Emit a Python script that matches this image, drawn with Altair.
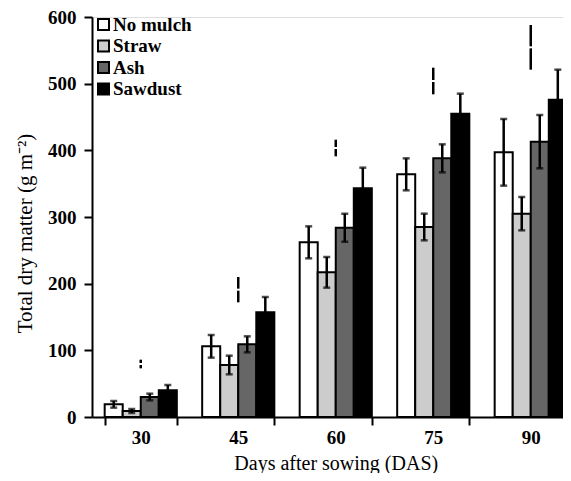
import altair as alt
import pandas as pd

days = ["30", "45", "60", "75", "90"]
treatments = ["No mulch", "Straw", "Ash", "Sawdust"]
fills = ["#ffffff", "#cccccc", "#666666", "#000000"]

no_mulch = [19, 106, 262, 364, 397]
no_mulch_err = [5, 17, 24, 24, 50]
straw = [9, 78, 217, 285, 305]
straw_err = [3, 14, 23, 20, 25]
ash = [30, 109, 284, 388, 413]
ash_err = [5, 12, 21, 21, 40]
sawdust = [40, 157, 343, 455, 476]
sawdust_err = [8, 23, 31, 30, 45]

lsd_low = [73, 172, 391, 484, 521]
lsd_high = [86, 210, 416, 524, 588]

series = {
    "No mulch": (no_mulch, no_mulch_err),
    "Straw": (straw, straw_err),
    "Ash": (ash, ash_err),
    "Sawdust": (sawdust, sawdust_err),
}

rows = []
for t in treatments:
    vals, errs = series[t]
    for d, v, e in zip(days, vals, errs):
        rows.append({"day": d, "treatment": t, "value": v, "lo": v - e, "hi": v + e})
df = pd.DataFrame(rows)

gap = 1.5
lsd_rows = []
for d, lo, hi in zip(days, lsd_low, lsd_high):
    mid = (lo + hi) / 2
    lsd_rows.append({"day": d, "a": lo, "b": mid - gap})
    lsd_rows.append({"day": d, "a": mid + gap, "b": hi})
lsd_df = pd.DataFrame(lsd_rows)

FONT = "Liberation Serif"

x_enc = alt.X(
    "day:N",
    sort=days,
    scale=alt.Scale(paddingInner=0.26, paddingOuter=0.13, range=[0, 487.5]),
    axis=alt.Axis(
        title="Days after sowing (DAS)",
        labelAngle=0,
        tickBand="extent",
        tickSize=8,
        tickWidth=2,
        tickColor="black",
        domainWidth=2,
        domainColor="black",
        labelFont=FONT,
        labelFontSize=19,
        labelFontWeight="bold",
        labelColor="black",
        labelPadding=3,
        titleFont=FONT,
        titleFontSize=20,
        titleFontWeight="normal",
        titleColor="black",
        titlePadding=6,
    ),
)
xo_enc = alt.XOffset("treatment:N", sort=treatments, scale=alt.Scale(paddingInner=0, paddingOuter=0))

y_scale = alt.Scale(domain=[0, 600], nice=False)
y_axis = alt.Axis(
    title="Total dry matter (g m⁻²)",
    values=[0, 100, 200, 300, 400, 500, 600],
    grid=False,
    tickSize=8,
    tickWidth=2,
    tickColor="black",
    domainWidth=2,
    domainColor="black",
    labelFont=FONT,
    labelFontSize=19,
    labelFontWeight="bold",
    labelColor="black",
    labelPadding=8,
    titleFont=FONT,
    titleFontSize=21,
    titleFontWeight="normal",
    titleColor="black",
    titleX=-67,
    titleY=216,
    titleBaseline="middle",
)

base = alt.Chart(df)

bars = base.mark_bar(stroke="black", strokeWidth=2).encode(
    x=x_enc,
    xOffset=xo_enc,
    y=alt.Y("value:Q", scale=y_scale, axis=y_axis),
    fill=alt.Fill(
        "treatment:N",
        sort=treatments,
        scale=alt.Scale(domain=treatments, range=fills),
        legend=alt.Legend(
            title=None,
            orient="none",
            legendX=2,
            legendY=-2,
            symbolType="square",
            symbolSize=121,
            symbolStrokeColor="black",
            symbolStrokeWidth=2,
            labelFont=FONT,
            labelFontSize=19,
            labelFontWeight="bold",
            labelColor="black",
            labelOffset=0,
            rowPadding=1.5,
        ),
    ),
)

err = base.mark_rule(color="black", strokeWidth=2.5).encode(
    x=alt.X("day:N", sort=days),
    xOffset=alt.XOffset("treatment:N", sort=treatments),
    y="lo:Q",
    y2="hi:Q",
)
cap_hi = base.mark_tick(color="black", thickness=2.5, size=7, orient="horizontal").encode(
    x=alt.X("day:N", sort=days),
    xOffset=alt.XOffset("treatment:N", sort=treatments),
    y="hi:Q",
)
cap_lo = base.mark_tick(color="black", thickness=2.5, size=7, orient="horizontal").encode(
    x=alt.X("day:N", sort=days),
    xOffset=alt.XOffset("treatment:N", sort=treatments),
    y="lo:Q",
)

lsd = alt.Chart(lsd_df).mark_rule(color="black", strokeWidth=2.5).encode(
    x=alt.X("day:N", sort=days),
    y="a:Q",
    y2="b:Q",
)

chart = (
    alt.layer(bars, err, cap_hi, cap_lo, lsd)
    .properties(
        width=471,
        height=400,
        autosize=alt.AutoSizeParams(type="none"),
        padding={"left": 84, "top": 9, "right": 0, "bottom": 56},
    )
    .configure_view(stroke=None)
    .configure(background="white")
)

chart.save("out.html", embed_options={"renderer": "svg", "actions": False})
